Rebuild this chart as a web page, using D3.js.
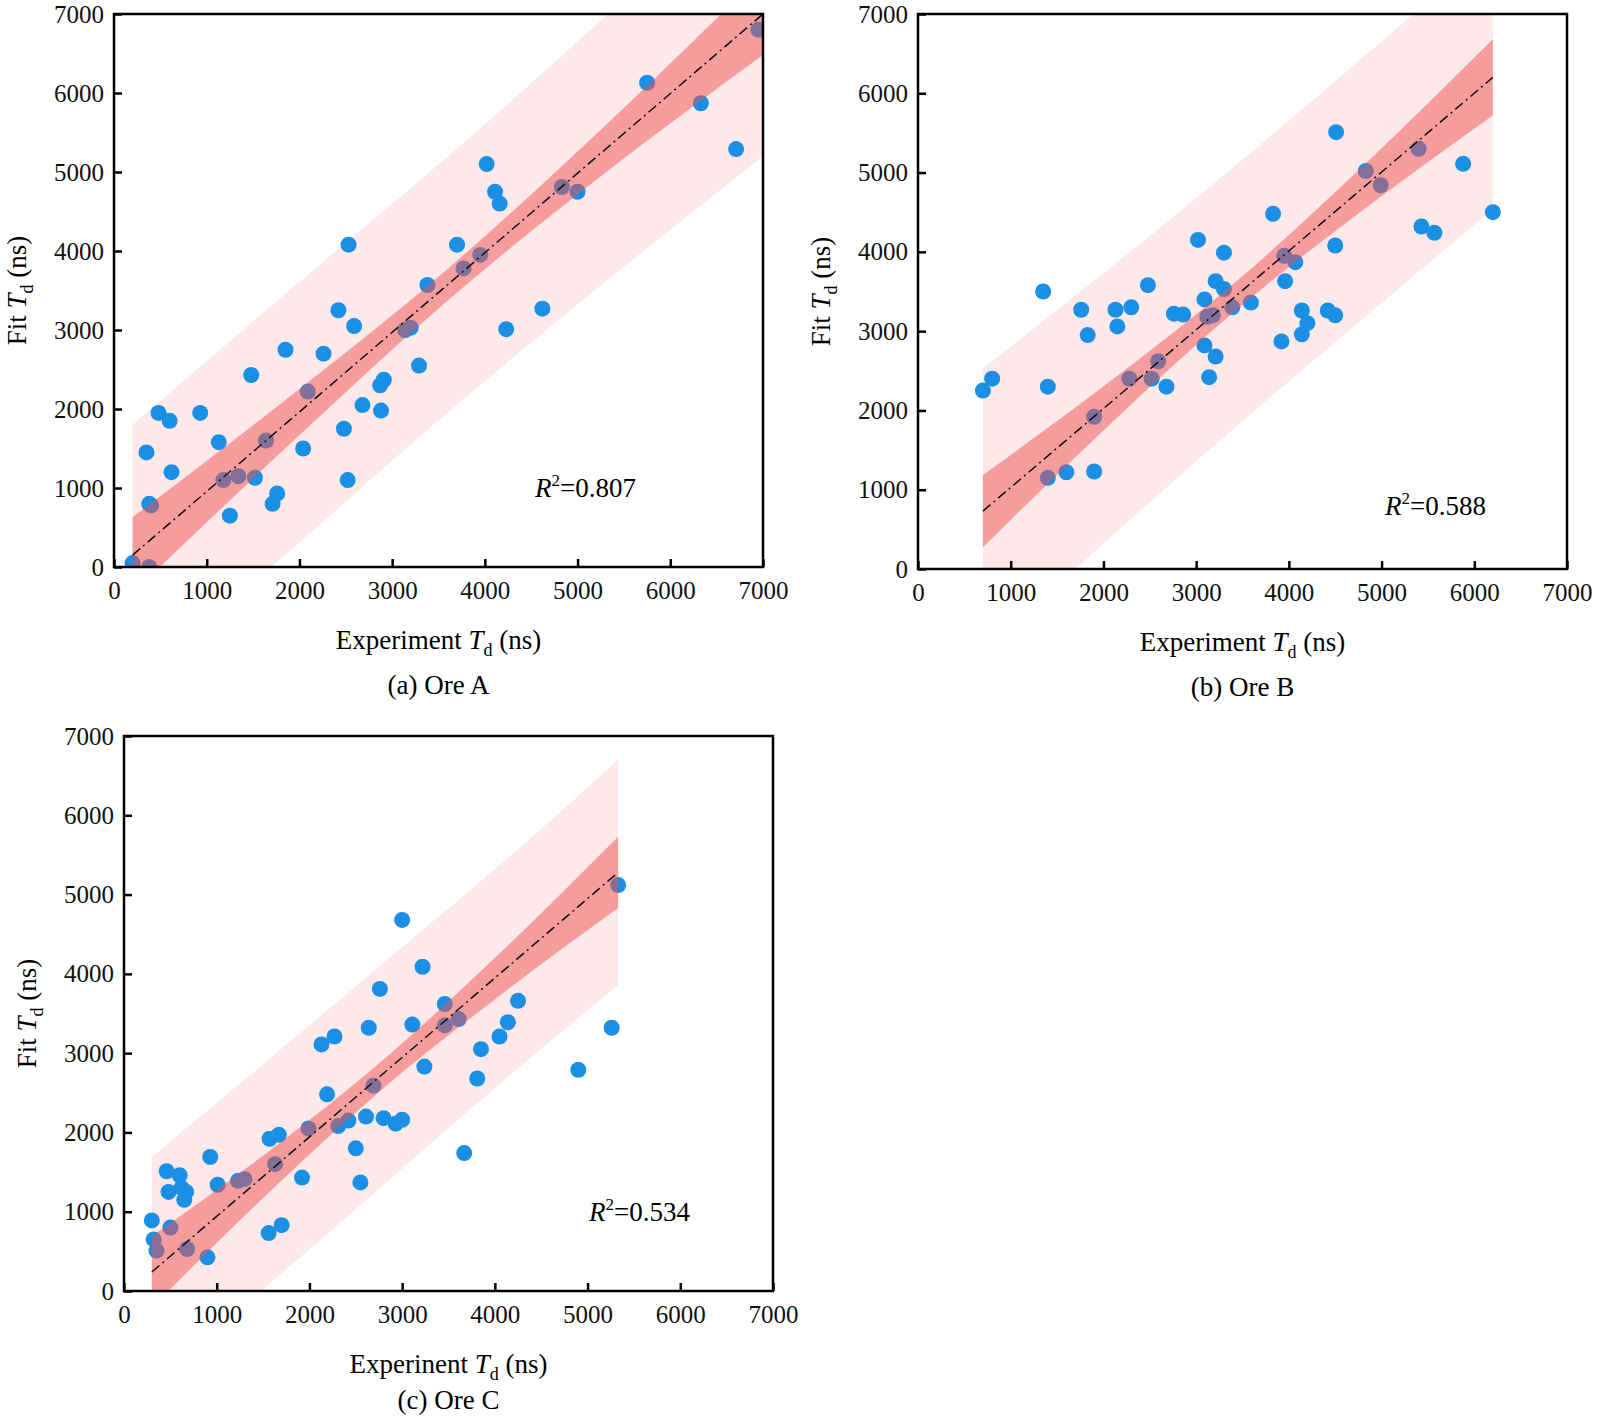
<!DOCTYPE html>
<html><head><meta charset="utf-8">
<script src="https://cdn.jsdelivr.net/npm/d3@7"></script>
<style>body{margin:0;background:#fff}svg text{font-family:"Liberation Serif","DejaVu Serif",serif}</style>
</head><body>
<svg id="chart" width="1600" height="1427"></svg>
<script>
var ticks = [0, 1000, 2000, 3000, 4000, 5000, 6000, 7000]

// Ore A
var aX = [200,380,350,380,400,480,600,620,930,1130,1180,1250,1340,1520,1480,1640,1710,1760,1850,2040,2090,2260,2420,2480,2520,2530,2590,2680,2870,2880,2910,3140,3200,3290,3380,3700,3770,3950,4020,4110,4160,4230,4620,4830,5000,5750,6330,6710,6950]
var aY = [50,0,1450,800,780,1950,1850,1200,1950,1580,1100,650,1150,1130,2430,1600,800,930,2750,1500,2220,2700,3250,1750,1100,4080,3050,2050,2300,1980,2370,3000,3030,2550,3570,4080,3780,3950,5100,4750,4600,3010,3270,4810,4750,6130,5870,5290,6800]
var aBandX = [200,1900,3600,5300,7000]
var aFit = [150,1860,3575,5290,7000]
var aCI = [480,300,200,300,520]
var aPI = [1650,1650,1620,1680,1800]

// Ore B
var bX = [700,800,1350,1400,1400,1600,1760,1830,1900,1900,2130,2150,2280,2300,2480,2520,2590,2680,2760,2860,3020,3090,3090,3120,3140,3180,3210,3210,3300,3300,3390,3590,3830,3920,3950,3960,4070,4140,4140,4200,4420,4500,4500,4510,4830,4990,5400,5430,5570,5880,6200]
var bY = [2250,2400,3500,2300,1150,1220,3270,2950,1230,1920,3270,3060,2400,3300,3580,2400,2620,2300,3220,3210,4150,3400,2820,3180,2420,3200,3630,2680,3530,3990,3300,3360,4480,2870,3950,3630,3870,3260,2960,3100,3260,4080,3200,5510,5020,4840,5300,4320,4240,5110,4500]
var bBandX = [700,2075,3450,4825,6200]
var bFit = [730,2100,3465,4830,6200]
var bCI = [455,270,180,280,480]
var bPI = [1800,1700,1650,1650,1660]

// Ore C
var cX = [300,320,350,500,460,480,600,620,670,650,680,900,930,1010,1230,1300,1560,1570,1670,1700,1630,1920,1990,2130,2190,2270,2310,2420,2500,2550,2610,2640,2690,2760,2800,2930,3000,3000,3110,3220,3240,3460,3460,3610,3670,3810,3850,4050,4140,4250,4900,5260,5330]
var cY = [890,650,510,800,1510,1250,1460,1300,1250,1150,530,425,1690,1340,1390,1410,730,1920,1970,830,1600,1430,2050,3110,2480,3210,2080,2150,1800,1370,2200,3320,2590,3810,2180,2110,2160,4680,3360,4090,2830,3620,3350,3430,1740,2680,3050,3210,3390,3660,2790,3320,5120]
var cBandX = [300,1560,2820,4080,5330]
var cFit = [240,1500,2760,4020,5280]
var cCI = [450,260,180,270,450]
var cPI = [1450,1420,1400,1380,1420]

var panels = [
  {x: aX, y: aY, bx: aBandX, fit: aFit, ci: aCI, pi: aPI, r2: "0.807", cap: "(a) Ore A", xt: "Experiment",
   box: {l: 114, r: 763, t: 14, b: 567}, r2pos: [535, 497], capDy: 127},
  {x: bX, y: bY, bx: bBandX, fit: bFit, ci: bCI, pi: bPI, r2: "0.588", cap: "(b) Ore B", xt: "Experiment",
   box: {l: 918, r: 1567, t: 14, b: 569}, r2pos: [1385, 515], capDy: 127},
  {x: cX, y: cY, bx: cBandX, fit: cFit, ci: cCI, pi: cPI, r2: "0.534", cap: "(c) Ore C", xt: "Experinent",
   box: {l: 124, r: 773, t: 736, b: 1291}, r2pos: [589, 1221], capDy: 118}
]

var svg = d3.select("#chart")
var serif = "Liberation Serif, DejaVu Serif, serif"

panels.forEach(function(p, i) {
    var xScale = d3.scaleLinear().domain([0, 7000]).range([p.box.l, p.box.r])
    var yScale = d3.scaleLinear().domain([0, 7000]).range([p.box.b, p.box.t])

    var g = svg.append("g").attr("font-family", serif)
    var clipId = "clip" + i
    g.append("clipPath").attr("id", clipId).append("rect")
        .attr("x", p.box.l).attr("y", p.box.t)
        .attr("width", p.box.r - p.box.l).attr("height", p.box.b - p.box.t)

    var band = d3.area().curve(d3.curveMonotoneX)
        .x(d => xScale(d.x)).y0(d => yScale(d.lo)).y1(d => yScale(d.hi))
    var piData = p.bx.map((x, k) => ({x: x, lo: p.fit[k] - p.pi[k], hi: p.fit[k] + p.pi[k]}))
    var ciData = p.bx.map((x, k) => ({x: x, lo: p.fit[k] - p.ci[k], hi: p.fit[k] + p.ci[k]}))

    var inner = g.append("g").attr("clip-path", "url(#" + clipId + ")")
    inner.append("path").datum(piData).attr("d", band).attr("fill", "#fde9e9")

    inner.selectAll("circle")
        .data(p.x.map((x, k) => [x, p.y[k]])).enter()
        .append("circle")
        .attr("cx", d => xScale(d[0]))
        .attr("cy", d => yScale(d[1]))
        .attr("r", 8)
        .attr("fill", "#1a8fe3")

    inner.append("path").datum(ciData).attr("d", band)
        .attr("fill", "#ee5050").attr("opacity", 0.5)

    inner.append("line")
        .attr("x1", xScale(p.bx[0])).attr("y1", yScale(p.fit[0]))
        .attr("x2", xScale(p.bx[4])).attr("y2", yScale(p.fit[4]))
        .attr("stroke", "#111").attr("stroke-width", 1.5)
        .attr("stroke-dasharray", "10,4,2,4")

    // axes, ticks inward
    var xAxis = g.append("g").attr("transform", "translate(0," + p.box.b + ")")
        .call(d3.axisBottom(xScale).tickValues(ticks).tickFormat(d3.format("d"))
            .tickSizeInner(-8).tickSizeOuter(0).tickPadding(14))
    var yAxis = g.append("g").attr("transform", "translate(" + p.box.l + ",0)")
        .call(d3.axisLeft(yScale).tickValues(ticks).tickFormat(d3.format("d"))
            .tickSizeInner(-8).tickSizeOuter(0).tickPadding(10))
    ;[xAxis, yAxis].forEach(function(ax) {
        ax.attr("font-family", serif)
        ax.select(".domain").remove()
        ax.selectAll("line").attr("stroke-width", 2.5)
        ax.selectAll("text").attr("font-size", 25).attr("fill", "#111")
    })

    g.append("rect")
        .attr("x", p.box.l).attr("y", p.box.t)
        .attr("width", p.box.r - p.box.l).attr("height", p.box.b - p.box.t)
        .attr("fill", "none").attr("stroke", "#000").attr("stroke-width", 2.5)

    var cx = (p.box.l + p.box.r) / 2
    var xt = g.append("text").attr("x", cx).attr("y", p.box.b + 82)
        .attr("text-anchor", "middle").attr("font-size", 27)
    xt.append("tspan").text(p.xt + " ")
    xt.append("tspan").attr("font-style", "italic").text("T")
    xt.append("tspan").attr("font-size", 18).attr("dy", 7).text("d")
    xt.append("tspan").attr("dy", -7).text(" (ns)")

    var yc = (p.box.t + p.box.b) / 2
    var yt = g.append("text")
        .attr("transform", "translate(" + (p.box.l - 88) + "," + yc + ") rotate(-90)")
        .attr("text-anchor", "middle").attr("font-size", 27)
    yt.append("tspan").text("Fit ")
    yt.append("tspan").attr("font-style", "italic").text("T")
    yt.append("tspan").attr("font-size", 18).attr("dy", 7).text("d")
    yt.append("tspan").attr("dy", -7).text(" (ns)")

    g.append("text").attr("x", cx).attr("y", p.box.b + p.capDy)
        .attr("text-anchor", "middle").attr("font-size", 27).text(p.cap)

    var r2 = g.append("text").attr("x", p.r2pos[0]).attr("y", p.r2pos[1]).attr("font-size", 27)
    r2.append("tspan").attr("font-style", "italic").text("R")
    r2.append("tspan").attr("font-size", 17).attr("dy", -11).text("2")
    r2.append("tspan").attr("dy", 11).text("=" + p.r2)
})
</script>
</body></html>
